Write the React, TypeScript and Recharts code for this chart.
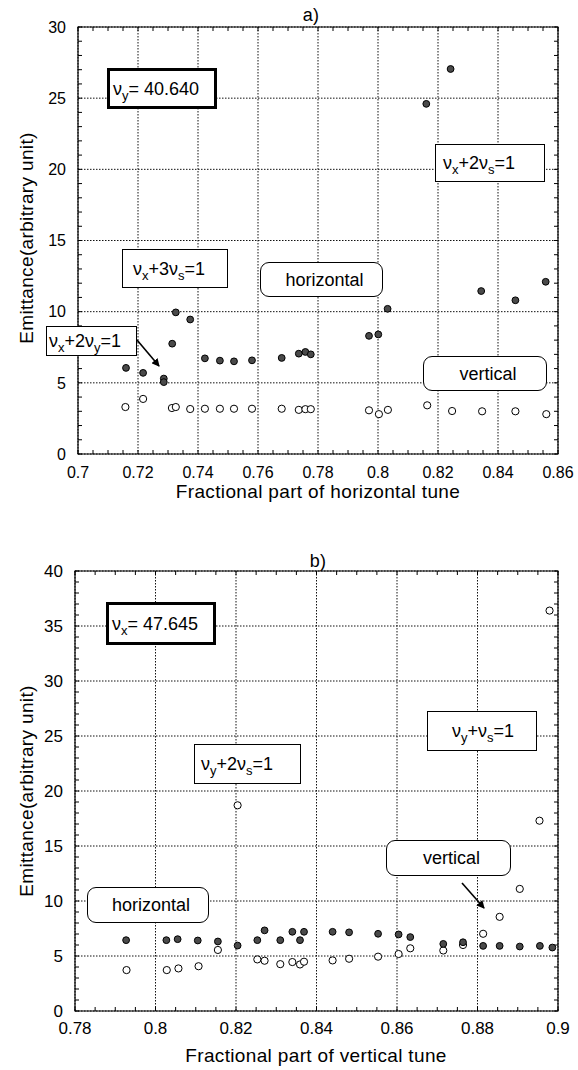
import React from 'react';
import { ScatterChart, Scatter, XAxis, YAxis, CartesianGrid, ReferenceArea } from 'recharts';

const FONT = '"Liberation Sans", Arial, Helvetica, sans-serif';

// ---- Panel a) ----
const topXTicks = [0.7, 0.72, 0.74, 0.76, 0.78, 0.8, 0.82, 0.84, 0.86];
const topYTicks = [0, 5, 10, 15, 20, 25, 30];
const topHorizontal = [
  { x: 0.716, y: 6.05 }, { x: 0.7217, y: 5.7 }, { x: 0.7286, y: 5.3 }, { x: 0.7286, y: 5.05 },
  { x: 0.7314, y: 7.75 }, { x: 0.7326, y: 9.95 }, { x: 0.7374, y: 9.45 }, { x: 0.7423, y: 6.72 },
  { x: 0.7473, y: 6.56 }, { x: 0.752, y: 6.51 }, { x: 0.758, y: 6.58 }, { x: 0.7679, y: 6.75 },
  { x: 0.7736, y: 7.05 }, { x: 0.7758, y: 7.17 }, { x: 0.7776, y: 7.0 }, { x: 0.797, y: 8.3 },
  { x: 0.8001, y: 8.4 }, { x: 0.8032, y: 10.2 }, { x: 0.8161, y: 24.6 }, { x: 0.8242, y: 27.05 },
  { x: 0.8344, y: 11.45 }, { x: 0.8458, y: 10.8 }, { x: 0.8559, y: 12.1 },
];
const topVertical = [
  { x: 0.7158, y: 3.3 }, { x: 0.7217, y: 3.87 }, { x: 0.7313, y: 3.23 }, { x: 0.7326, y: 3.3 },
  { x: 0.7374, y: 3.16 }, { x: 0.7423, y: 3.18 }, { x: 0.7473, y: 3.18 }, { x: 0.752, y: 3.18 },
  { x: 0.758, y: 3.18 }, { x: 0.7679, y: 3.18 }, { x: 0.7736, y: 3.1 }, { x: 0.7758, y: 3.15 },
  { x: 0.7776, y: 3.15 }, { x: 0.797, y: 3.07 }, { x: 0.8003, y: 2.8 }, { x: 0.8033, y: 3.1 },
  { x: 0.8164, y: 3.42 }, { x: 0.8247, y: 3.02 }, { x: 0.8347, y: 3.0 }, { x: 0.8458, y: 3.0 },
  { x: 0.8561, y: 2.8 },
];

// ---- Panel b) ----
const botXTicks = [0.78, 0.8, 0.82, 0.84, 0.86, 0.88, 0.9];
const botYTicks = [0, 5, 10, 15, 20, 25, 30, 35, 40];
const botHorizontal = [
  { x: 0.7927, y: 6.44 }, { x: 0.8027, y: 6.44 }, { x: 0.8055, y: 6.53 }, { x: 0.8105, y: 6.41 },
  { x: 0.8155, y: 6.32 }, { x: 0.8204, y: 5.95 }, { x: 0.8253, y: 6.44 }, { x: 0.8271, y: 7.33 },
  { x: 0.831, y: 6.44 }, { x: 0.834, y: 7.2 }, { x: 0.8359, y: 6.44 }, { x: 0.8369, y: 7.2 },
  { x: 0.844, y: 7.2 }, { x: 0.8481, y: 7.15 }, { x: 0.8553, y: 7.02 }, { x: 0.8604, y: 6.96 },
  { x: 0.8633, y: 6.72 }, { x: 0.8715, y: 6.1 }, { x: 0.8764, y: 6.25 }, { x: 0.8814, y: 5.92 },
  { x: 0.8855, y: 5.92 }, { x: 0.8905, y: 5.86 }, { x: 0.8955, y: 5.92 }, { x: 0.8986, y: 5.77 },
];
const botVertical = [
  { x: 0.7928, y: 3.72 }, { x: 0.8028, y: 3.72 }, { x: 0.8057, y: 3.87 }, { x: 0.8107, y: 4.07 },
  { x: 0.8155, y: 5.55 }, { x: 0.8204, y: 18.7 }, { x: 0.8253, y: 4.69 }, { x: 0.8271, y: 4.57 },
  { x: 0.831, y: 4.26 }, { x: 0.834, y: 4.45 }, { x: 0.8359, y: 4.23 }, { x: 0.8369, y: 4.48 },
  { x: 0.844, y: 4.6 }, { x: 0.8481, y: 4.75 }, { x: 0.8553, y: 4.94 }, { x: 0.8604, y: 5.18 },
  { x: 0.8633, y: 5.7 }, { x: 0.8715, y: 5.5 }, { x: 0.8764, y: 6.0 }, { x: 0.8814, y: 7.02 },
  { x: 0.8855, y: 8.56 }, { x: 0.8905, y: 11.1 }, { x: 0.8954, y: 17.3 }, { x: 0.8979, y: 36.4 },
];

const range = (a: number, b: number, step: number) => {
  const out: number[] = [];
  const n = Math.round((b - a) / step);
  for (let i = 0; i <= n; i++) out.push(Number((a + i * step).toFixed(4)));
  return out;
};

const FilledDot = (p: any) => (
  <circle cx={p.cx} cy={p.cy} r={3.4} fill="#4a4a4a" stroke="#000" strokeWidth={1} />
);
const OpenDot = (p: any) => (
  <circle cx={p.cx} cy={p.cy} r={3.6} fill="#fff" stroke="#000" strokeWidth={1} />
);
const NoLabel = () => <g />;

type PanelProps = {
  height: number;
  margin: { top: number; right: number; bottom: number; left: number };
  xDomain: [number, number];
  yDomain: [number, number];
  xTicks: number[];
  yTicks: number[];
  xMinor: number[];
  yMinor: number[];
  filled: { x: number; y: number }[];
  open: { x: number; y: number }[];
  xLabelGap: number;
  yLabelGap: number;
  fontSize: number;
};

function Panel(props: PanelProps) {
  const { height, margin, xDomain, yDomain, xTicks, yTicks, xMinor, yMinor, filled, open, xLabelGap, yLabelGap, fontSize } = props;
  const tickStyle = { fontSize, fill: '#000', fontFamily: FONT };
  const line = { stroke: '#000', strokeWidth: 1 };
  return (
    <ScatterChart width={578} height={height} margin={margin}>
      <CartesianGrid xAxisId="main" yAxisId="main" stroke="#111" strokeDasharray="1.5 1.5" strokeWidth={1} />
      <XAxis xAxisId="main" type="number" dataKey="x" domain={xDomain} ticks={xTicks} interval={0}
        allowDataOverflow tickLine={false} axisLine={false} tick={tickStyle} tickSize={0} tickMargin={xLabelGap} height={40} />
      <XAxis xAxisId="bm" type="number" dataKey="x" mirror domain={xDomain} ticks={xMinor} interval={0}
        allowDataOverflow tick={NoLabel} tickSize={4} tickLine={line} axisLine={false} height={1} />
      <XAxis xAxisId="tm" type="number" dataKey="x" orientation="top" mirror domain={xDomain} ticks={xMinor} interval={0}
        allowDataOverflow tick={NoLabel} tickSize={4} tickLine={line} axisLine={false} height={1} />
      <YAxis yAxisId="main" type="number" dataKey="y" domain={yDomain} ticks={yTicks} interval={0}
        allowDataOverflow tickLine={false} axisLine={false} tick={tickStyle} tickSize={0} tickMargin={yLabelGap} width={50} />
      <YAxis yAxisId="lm" type="number" dataKey="y" mirror domain={yDomain} ticks={yMinor} interval={0}
        allowDataOverflow tick={NoLabel} tickSize={4} tickLine={line} axisLine={false} width={1} />
      <YAxis yAxisId="rm" type="number" dataKey="y" orientation="right" mirror domain={yDomain} ticks={yMinor} interval={0}
        allowDataOverflow tick={NoLabel} tickSize={4} tickLine={line} axisLine={false} width={1} />
      <ReferenceArea xAxisId="main" yAxisId="main" x1={xDomain[0]} x2={xDomain[1]} y1={yDomain[0]} y2={yDomain[1]}
        fill="none" fillOpacity={0} stroke="#000" strokeWidth={1.2} strokeOpacity={1} ifOverflow="visible" />
      <Scatter xAxisId="main" yAxisId="main" data={open} shape={OpenDot} isAnimationActive={false} />
      <Scatter xAxisId="main" yAxisId="main" data={filled} shape={FilledDot} isAnimationActive={false} />
    </ScatterChart>
  );
}

const abs = (left: number, top: number, w: number, h: number): React.CSSProperties => ({
  position: 'absolute', left, top, width: w, height: h, boxSizing: 'border-box',
});

function Box(props: { left: number; top: number; w: number; h: number; bold?: boolean; round?: boolean; pad?: number; center?: boolean; children: React.ReactNode }) {
  const { left, top, w, h, bold, round, pad, center, children } = props;
  return (
    <div style={{
      ...abs(left, top, w, h), background: '#fff', border: `${bold ? 3 : 1}px solid #000`,
      borderRadius: round ? 9 : 0, display: 'flex', alignItems: 'center',
      justifyContent: center ? 'center' : 'flex-start', paddingLeft: pad ?? 6,
      fontFamily: FONT, fontSize: 18, color: '#000', whiteSpace: 'nowrap', lineHeight: 1,
    }}>
      <span>{children}</span>
    </div>
  );
}

const Sub = (p: { c: string }) => (
  <sub style={{ fontSize: 13, verticalAlign: 'baseline', position: 'relative', top: 5 }}>{p.c}</sub>
);

const Text = (p: { x: number; y: number; children: React.ReactNode; rotate?: boolean; size?: number }) => (
  <div style={{
    position: 'absolute', left: p.x, top: p.y, transform: `translate(-50%, -50%)${p.rotate ? ' rotate(-90deg)' : ''}`,
    fontFamily: FONT, fontSize: p.size ?? 19, letterSpacing: 0.35, color: '#000', whiteSpace: 'nowrap', lineHeight: 1,
  }}>{p.children}</div>
);

export default function App() {
  return (
    <div style={{ position: 'absolute', left: 0, top: 0, width: 578, height: 1070, background: '#fff', overflow: 'hidden' }}>
      <div style={{ position: 'absolute', left: 0, top: 0 }}>
        <Panel height={520} margin={{ top: 27, right: 20, bottom: 26, left: 28 }}
          xDomain={[0.7, 0.86]} yDomain={[0, 30]} xTicks={topXTicks} yTicks={topYTicks}
          xMinor={range(0.7, 0.86, 0.005)} yMinor={range(0, 30, 1)}
          filled={topHorizontal} open={topVertical} xLabelGap={13} yLabelGap={12} fontSize={16} />
      </div>
      <div style={{ position: 'absolute', left: 0, top: 520 }}>
        <Panel height={550} margin={{ top: 51, right: 20, bottom: 19, left: 25 }}
          xDomain={[0.78, 0.9]} yDomain={[0, 40]} xTicks={botXTicks} yTicks={botYTicks}
          xMinor={range(0.78, 0.9, 0.005)} yMinor={range(0, 40, 1)}
          filled={botHorizontal} open={botVertical} xLabelGap={11} yLabelGap={12} fontSize={17} />
      </div>

      <Text x={311} y={15} size={18}>a)</Text>
      <Text x={318} y={491}>Fractional part of horizontal tune</Text>
      <Text x={26} y={238} rotate>Emittance(arbitrary unit)</Text>

      <Text x={318} y={561} size={18}>b)</Text>
      <Text x={316} y={1055}>Fractional part of vertical tune</Text>
      <Text x={26} y={791} rotate>Emittance(arbitrary unit)</Text>

      {/* Panel a annotations */}
      <Box left={107} top={68} w={110} h={41} bold pad={3}>ν<Sub c="y" />= 40.640</Box>
      <Box left={435} top={144} w={110} h={38} pad={7}>ν<Sub c="x" />+2ν<Sub c="s" />=1</Box>
      <Box left={122} top={249} w={106} h={39} pad={10}>ν<Sub c="x" />+3ν<Sub c="s" />=1</Box>
      <Box left={260} top={262} w={123} h={35} round center>horizontal</Box>
      <Box left={46} top={326} w={91} h={30} pad={2}>ν<Sub c="x" />+2ν<Sub c="y" />=1</Box>
      <Box left={423} top={356} w={124} h={35} round center>vertical</Box>

      {/* Panel b annotations */}
      <Box left={106} top={602} w={110} h={43} bold pad={3}>ν<Sub c="x" />= 47.645</Box>
      <Box left={194} top={744} w={107} h={40} pad={6}>ν<Sub c="y" />+2ν<Sub c="s" />=1</Box>
      <Box left={427} top={711} w={110} h={40} pad={24}>ν<Sub c="y" />+ν<Sub c="s" />=1</Box>
      <Box left={386} top={840} w={125} h={36} round center>vertical</Box>
      <Box left={87} top={887} w={122} h={36} round center>horizontal</Box>

      <svg width={578} height={1070} style={{ position: 'absolute', left: 0, top: 0, pointerEvents: 'none' }}>
        <defs>
          <marker id="ah" markerWidth="8" markerHeight="8" refX="7" refY="4" orient="auto" markerUnits="userSpaceOnUse">
            <path d="M0,0 L8,4 L0,8 z" fill="#000" />
          </marker>
        </defs>
        <line x1={137} y1={340} x2={159} y2={366} stroke="#000" strokeWidth={1.6} markerEnd="url(#ah)" />
        <line x1={462} y1={883} x2={484} y2={908} stroke="#000" strokeWidth={1.6} markerEnd="url(#ah)" />
      </svg>
    </div>
  );
}
